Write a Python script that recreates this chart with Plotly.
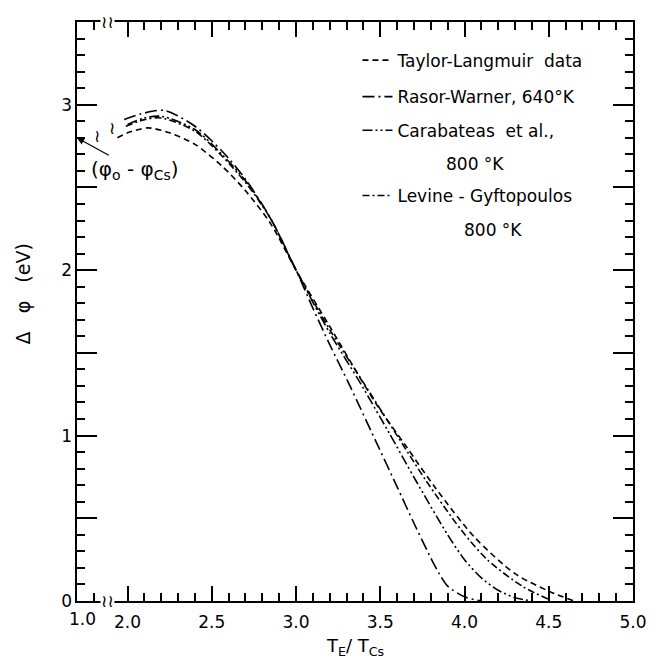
import plotly.graph_objects as go

# ---- data ----
rw_x = [1.98, 2.10, 2.22, 2.40, 2.56, 2.70, 2.85, 3.00, 3.10, 3.20, 3.32, 3.49, 3.60, 3.70, 3.81, 3.85, 3.90, 4.00, 4.10]
rw_y = [2.91, 2.95, 2.965, 2.87, 2.72, 2.55, 2.31, 2.00, 1.77, 1.55, 1.30, 0.93, 0.69, 0.47, 0.24, 0.165, 0.09, 0.025, 0.0]

ca_x = [2.00, 2.10, 2.20, 2.40, 2.56, 2.70, 2.85, 3.00, 3.20, 3.38, 3.55, 3.71, 3.90, 4.00, 4.10, 4.20, 4.30, 4.40]
ca_y = [2.88, 2.92, 2.93, 2.85, 2.70, 2.54, 2.31, 2.00, 1.62, 1.32, 1.02, 0.73, 0.40, 0.25, 0.14, 0.065, 0.02, 0.0]

lg_x = [1.99, 2.10, 2.20, 2.40, 2.56, 2.70, 2.85, 3.00, 3.20, 3.40, 3.60, 3.77, 3.98, 4.14, 4.35, 4.50]
lg_y = [2.87, 2.91, 2.92, 2.84, 2.69, 2.53, 2.31, 2.00, 1.64, 1.32, 1.00, 0.73, 0.43, 0.245, 0.085, 0.01]

tl_x = [1.94, 2.00, 2.12, 2.25, 2.40, 2.56, 2.70, 2.85, 3.00, 3.20, 3.47, 3.65, 3.83, 4.06, 4.30, 4.51, 4.65]
tl_y = [2.80, 2.83, 2.86, 2.83, 2.76, 2.63, 2.48, 2.28, 2.00, 1.66, 1.20, 0.94, 0.68, 0.385, 0.165, 0.055, 0.0]

# broken x axis: the left edge (position 1.7) carries the label "1.0"
x_break_pos = 1.7
x_break_label = "1.0"
x_range = [x_break_pos, 5.0]
y_range = [0, 3.5]
y_hidden_labels = {"0.5": " ", "1.5": " ", "2.5": " ", "3.5": " "}

NB = "\u00a0"
series = [
    ("Taylor-Langmuir" + NB * 2 + "data", tl_x, tl_y, "6px,4px"),
    ("Rasor-Warner, 640°K", rw_x, rw_y, "12px,4px,2px,4px"),
    ("Carabateas" + NB * 2 + "et al.,", ca_x, ca_y, "10px,3px,2px,3px,2px,3px"),
    ("Levine - Gyftopoulos", lg_x, lg_y, "7px,3px,2px,3px"),
]
legend_rows_px = [54, 91, 125, 191]   # vertical position of each legend row (pixels)

FONT = "DejaVu Sans"
W, H = 659, 671
ML, MR, MT, MB = 77, 19, 15, 70
PW, PH = W - ML - MR, H - MT - MB


def px_x(px):
    return (px - ML) / PW


def px_y(py):
    return 1 - (py - MT) / PH


fig = go.Figure()
legends = {}
for i, (name, xs, ys, dash) in enumerate(series):
    key = "legend" if i == 0 else f"legend{i + 1}"
    fig.add_trace(go.Scatter(
        x=xs, y=ys, mode="lines", name=name, legend=key,
        line=dict(color="black", width=1.6, dash=dash, shape="spline", smoothing=0.8),
    ))
    legends[key] = dict(
        x=px_x(361), y=px_y(legend_rows_px[i]), xanchor="left", yanchor="middle",
        bgcolor="rgba(0,0,0,0)", font=dict(family=FONT, size=17, color="black"),
        itemwidth=30,
    )

# empty helper trace so that the overlay (labelled, major-tick) axes are drawn
fig.add_trace(go.Scatter(x=[], y=[], xaxis="x2", yaxis="y2", showlegend=False, hoverinfo="skip"))

tick_common = dict(showgrid=False, zeroline=False, ticks="inside", tickcolor="black", mirror="ticks")
tfont = dict(family=FONT, size=17, color="black")

fig.update_layout(
    # base axes: frame + 0.1 minor ticks
    xaxis=dict(range=x_range, tickmode="linear", tick0=2.0, dtick=0.1, ticklen=8, tickwidth=2,
               showticklabels=False, showline=True, linecolor="black", linewidth=2, **tick_common),
    yaxis=dict(range=y_range, tickmode="linear", tick0=0, dtick=0.1, ticklen=8, tickwidth=2,
               showticklabels=False, showline=True, linecolor="black", linewidth=2, **tick_common),
    # overlay axes: major ticks and labels
    xaxis2=dict(overlaying="x", anchor="y2", side="bottom", range=x_range, tickmode="linear", tick0=2.0,
                dtick=0.5, tickformat=".1f", ticklen=15, tickwidth=2, showline=False,
                ticklabelstandoff=9, tickfont=tfont, **tick_common),
    yaxis2=dict(overlaying="y", anchor="x2", side="left", range=y_range, tickmode="linear", tick0=0,
                dtick=0.5, labelalias=y_hidden_labels, ticklen=20, tickwidth=2, showline=False,
                ticklabelstandoff=4, tickfont=tfont, **tick_common),
)

sq_font = dict(family="DejaVu Sans", size=17, color="black")
annos = [
    dict(x=x_break_pos, y=0, xref="x", yref="paper", text=x_break_label, showarrow=False,
         xanchor="center", yanchor="top", xshift=5, yshift=-6, font=tfont),
    dict(x=0.5, y=px_y(648), xref="paper", yref="paper", text="T<sub>E</sub>/ T<sub>Cs</sub>",
         showarrow=False, xanchor="center", yanchor="middle",
         font=dict(family=FONT, size=18, color="black")),
    dict(x=px_x(22), y=px_y(290), xref="paper", yref="paper", text="Δ" + NB * 3 + "φ" + NB * 3 + "(eV)",
         textangle=-90, showarrow=False, xanchor="center", yanchor="middle",
         font=dict(family=FONT, size=19, color="black")),
    dict(x=1.7, y=2.80, xref="x", yref="y", text="(φ<sub>o</sub> - φ<sub>Cs</sub>)",
         showarrow=True, arrowhead=2, arrowsize=1.2, arrowwidth=1.2, arrowcolor="black",
         ax=58, ay=32, font=dict(family=FONT, size=20, color="black")),
    dict(x=px_x(480), y=px_y(159), xref="paper", yref="paper", text="800 °K", showarrow=False,
         xanchor="center", yanchor="middle", font=tfont),
    dict(x=px_x(498), y=px_y(226), xref="paper", yref="paper", text="800 °K", showarrow=False,
         xanchor="center", yanchor="middle", font=tfont),
    dict(x=1.82, y=2.81, xref="x", yref="y", text="≀", showarrow=False, font=sq_font),
    dict(x=1.91, y=2.86, xref="x", yref="y", text="≀", showarrow=False, font=sq_font),
    dict(x=1.88, y=0, xref="x", yref="y", text="≀≀", showarrow=False, bgcolor="white",
         borderpad=0, font=sq_font),
    dict(x=1.88, y=3.5, xref="x", yref="y", text="≀≀", showarrow=False, bgcolor="white",
         borderpad=0, font=sq_font),
]

fig.update_layout(
    width=W, height=H,
    margin=dict(l=ML, r=MR, t=MT, b=MB),
    paper_bgcolor="white", plot_bgcolor="white",
    showlegend=True,
    annotations=annos,
    **legends,
)

fig.write_html("out.html")
